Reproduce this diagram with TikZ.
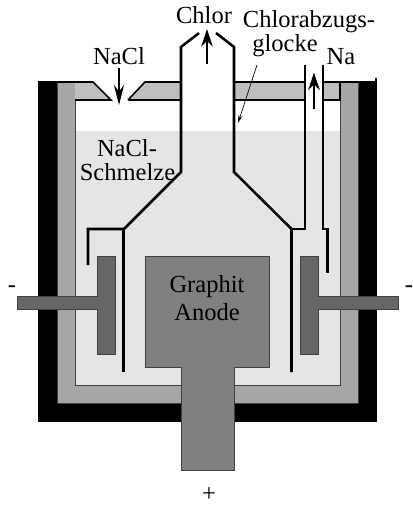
\documentclass[tikz,border=0pt]{standalone}
\usepackage{fontspec}
\setmainfont{Liberation Serif}
\usetikzlibrary{arrows}
\usetikzlibrary{arrows.meta}
\definecolor{wallgray}{RGB}{166,166,166}
\definecolor{lidgray}{RGB}{191,191,191}
\definecolor{meltgray}{RGB}{229,229,229}
\definecolor{anodegray}{RGB}{128,128,128}
\definecolor{cathodegray}{RGB}{102,102,102}
\tikzset{
  bell/.style={line width=1.9pt,line join=miter},
  part/.style={draw=black!75,line width=0.6pt},
  lab/.style={anchor=base,inner sep=0pt,font=\fontsize{18.4pt}{20pt}\selectfont},
  flow/.style={-{Stealth[length=13pt,width=8.5pt,inset=4pt]},line width=1.8pt},
}
\begin{document}
\begin{tikzpicture}[x=0.75pt,y=-0.75pt]
\useasboundingbox (0,0) rectangle (412,505);
 %vessel
 \fill[black] (38,82) rectangle (377,422);
 \fill[black] (375,78) rectangle (377,82);
 \fill[wallgray] (57.5,82) rectangle (358,403);
 \fill[white] (75,82) rectangle (340,131);
 \fill[meltgray] (75,131) rectangle (340,385);
 \draw[part] (57.5,82) -- (57.5,403) -- (358,403) -- (358,82);
 \draw[part] (75,100) -- (75,385) -- (340,385) -- (340,100);
 %lid
 \fill[lidgray] (75,82) -- (93,82) -- (111,100) -- (75,100) -- cycle;
 \fill[lidgray] (128,100) -- (145,82) -- (181,82) -- (181,100) -- cycle;
 \fill[lidgray] (234,82) rectangle (305,100);
 \fill[lidgray] (323,82) rectangle (340,100);
 \draw[line width=1.2pt] (38,82) -- (93,82) -- (111,100) -- (75,100);
 \draw[line width=1.2pt] (128,100) -- (145,82) -- (181,82);
 \draw[line width=1.2pt] (128,100) -- (181,100);
 \draw[line width=1.2pt] (234,82) -- (305,82);
 \draw[line width=1.2pt] (234,100) -- (305,100);
 \draw[line width=1.2pt] (323,82) -- (377,82);
 \draw[line width=1.2pt] (340,82) -- (340,100) -- (323,100);
 %anode
 \draw[part,fill=anodegray] (145,256) -- (269,256) -- (269,367) -- (234,367) -- (234,470) -- (181,470) -- (181,367) -- (145,367) -- cycle;
 %cathodes
 \draw[part,fill=cathodegray] (97,256) -- (115,256) -- (115,354) -- (97,354) -- (97,309) -- (17,309) -- (17,296) -- (97,296) -- cycle;
 \draw[part,fill=cathodegray] (318,256) -- (300,256) -- (300,354) -- (318,354) -- (318,309) -- (398,309) -- (398,296) -- (318,296) -- cycle;
 %bell and tube
 \draw[bell] (88,265) -- (88,229) -- (124,229) -- (181,172) -- (181,47) -- (199,33);
 \draw[bell] (123.5,229) -- (123.5,372);
 \draw[bell] (216,33) -- (234,47) -- (234,172) -- (291.5,229) -- (291.5,372);
 \draw[bell] (291.5,229) -- (305,229) -- (305,65);
 \draw[bell] (323,65) -- (323,229) -- (327.5,229) -- (327.5,273);
 %labels
 \node[lab] (nacl) at (119,65) {NaCl};
 \node[lab] (chlor) at (204,24) {Chlor};
 \node[lab] (abzug) at (309,28) {Chlorabzugs-};
 \node[lab] (glocke) at (285,52) {glocke};
 \node[lab] (na) at (341,65) {Na};
 \node[lab] (melt) at (127,157) {NaCl-};
 \node[lab] (schmelze) at (127.5,181) {Schmelze};
 \node[lab] (graphit) at (207,292) {Graphit};
 \node[lab] (anode) at (207,320) {Anode};
 \node[lab] (minusl) at (12,292) {-};
 \node[lab] (minusr) at (409,292) {-};
 \node[lab] (plus) at (209,501) {+};
 %arrows
 \draw[-{Stealth[length=15pt,width=7.5pt,inset=5pt]},line width=1.1pt] (119,68) -- (119,105);
 \draw[flow] (207,64) -- (207,29);
 \draw[flow] (314,109) -- (314,72.5);
 \draw[-{Stealth[length=6pt,width=3pt]},line width=0.5pt] (257,65) -- (238,123);
\end{tikzpicture}
\end{document}
